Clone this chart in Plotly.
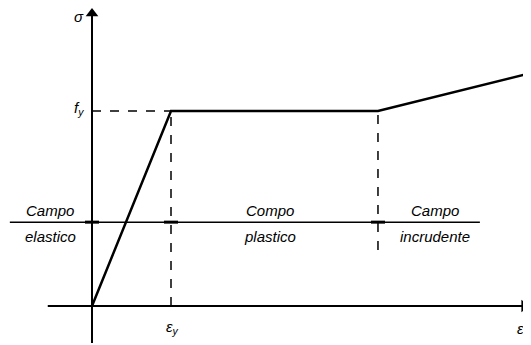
import plotly.graph_objects as go

# Stress-strain curve (normalised: eps_y = 1, f_y = 1)
strain = [0.0, 1.0, 3.62, 5.56]
stress = [0.0, 1.0, 1.0, 1.195]

eps_y = 1.0
f_y = 1.0
eps_hard = 3.62
campo_level = 0.43

labels_top = ["Campo", "Compo", "Campo"]
labels_bottom = ["elastico", "plastico", "incrudente"]
label_x = [-0.53, 2.25, 4.34]

# page has an 8px body margin -> figure is drawn 8px in from the top-left
OFF = 8
W, H = 531 - OFF, 345 - OFF
x0_px, y0_px = 92 - OFF, 306 - OFF
sx, sy = 79.0, 195.0
xr = [-x0_px / sx, (W - x0_px) / sx]
yr = [-(H - y0_px) / sy, y0_px / sy]

fig = go.Figure()
black = "black"

# axes
fig.add_trace(go.Scatter(x=[0, 0], y=[-0.19, 1.50], mode="lines",
                         line=dict(color=black, width=2), hoverinfo="skip"))
fig.add_trace(go.Scatter(x=[0], y=[1.50], mode="markers",
                         marker=dict(symbol="triangle-up", size=11, color=black)))
fig.add_trace(go.Scatter(x=[-0.56, 5.47], y=[0, 0], mode="lines",
                         line=dict(color=black, width=2), hoverinfo="skip"))
fig.add_trace(go.Scatter(x=[5.47], y=[0], mode="markers",
                         marker=dict(symbol="triangle-right", size=11, color=black)))

# dashed guides
fig.add_trace(go.Scatter(x=[0, eps_y], y=[f_y, f_y], mode="lines",
                         line=dict(color=black, width=1.5, dash="dash")))
fig.add_trace(go.Scatter(x=[eps_y, eps_y], y=[0, f_y], mode="lines",
                         line=dict(color=black, width=1.5, dash="dash")))
fig.add_trace(go.Scatter(x=[eps_hard, eps_hard], y=[0.287, f_y], mode="lines",
                         line=dict(color=black, width=1.5, dash="dash")))

# campo line
fig.add_trace(go.Scatter(x=[-1.04, 4.91], y=[campo_level, campo_level], mode="lines",
                         line=dict(color=black, width=1.5)))
# small marks where the boundaries cross the campo line
fig.add_trace(go.Scatter(x=[0, eps_y, eps_hard], y=[campo_level] * 3, mode="markers",
                         marker=dict(symbol="line-ew", size=10,
                                     line=dict(color=black, width=3))))

# curve
fig.add_trace(go.Scatter(x=strain, y=stress, mode="lines",
                         line=dict(color=black, width=2.5)))

font = dict(family="Liberation Sans, Arial", size=15, color=black)
ann = [
    dict(x=-0.165, y=1.487, text="<i>σ</i>"),
    dict(x=-0.16, y=1.015, text="<i>f<sub>y</sub></i>"),
    dict(x=1.02, y=-0.11, text="<i>ε<sub>y</sub></i>"),
    dict(x=5.43, y=-0.113, text="<i>ε</i>"),
]
for xx, t in zip(label_x, labels_top):
    ann.append(dict(x=xx, y=0.49, text="<i>" + t + "</i>"))
for xx, t in zip(label_x, labels_bottom):
    ann.append(dict(x=xx, y=0.355, text="<i>" + t + "</i>"))
for a in ann:
    a.update(showarrow=False, font=font, xref="x", yref="y")

fig.update_layout(
    width=W, height=H, autosize=False,
    margin=dict(l=0, r=0, t=0, b=0),
    paper_bgcolor="white", plot_bgcolor="white",
    showlegend=False,
    xaxis=dict(range=xr, visible=False, fixedrange=True),
    yaxis=dict(range=yr, visible=False, fixedrange=True),
    annotations=ann,
)
fig.write_html("out.html")
